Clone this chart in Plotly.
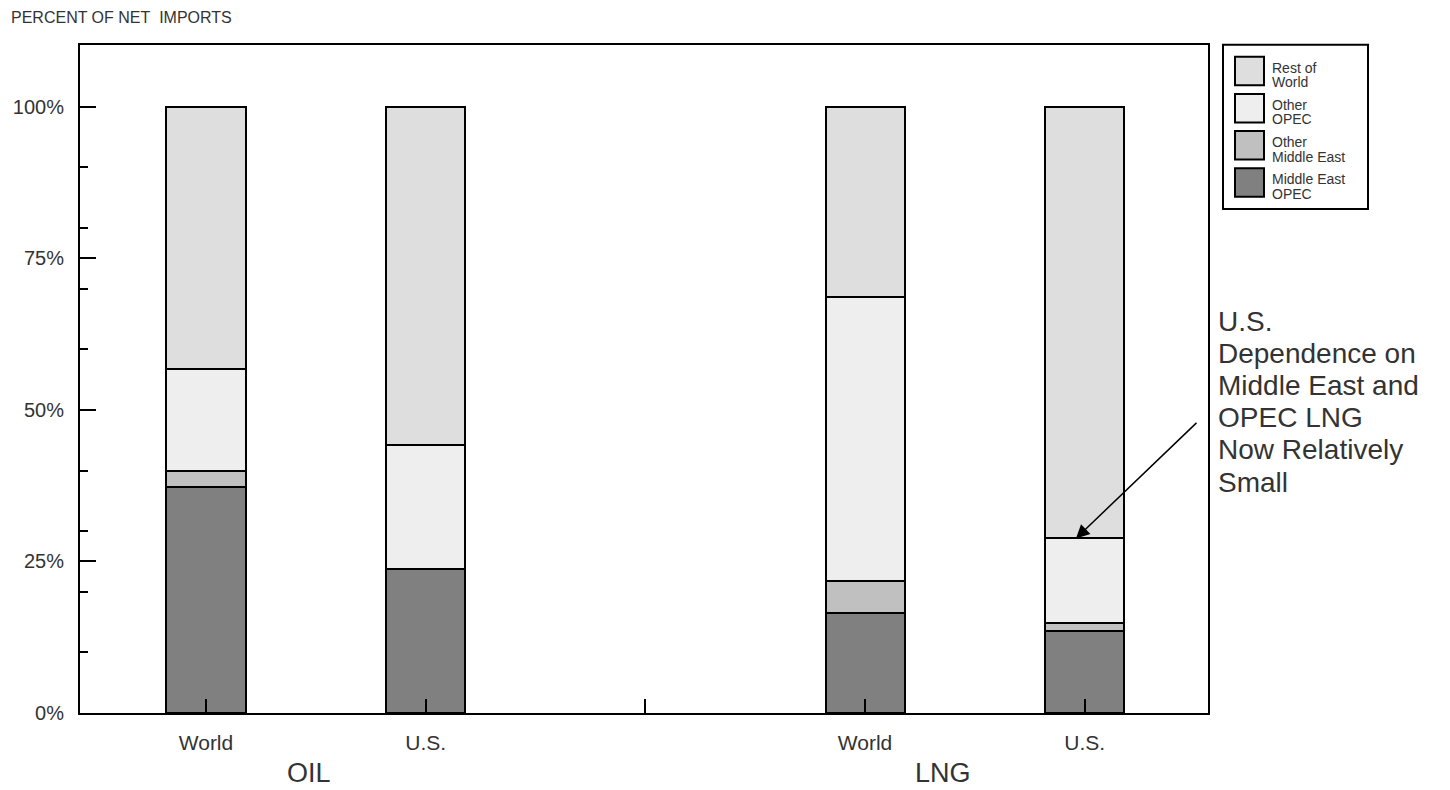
import plotly.graph_objects as go

# ---------------- data ----------------
groups = ["OIL", "OIL", "LNG", "LNG"]
categories = ["World", "U.S.", "World", "U.S."]
middle_east_opec = [37.3, 23.7, 16.5, 13.5]
other_middle_east = [2.6, 0.0, 5.3, 1.35]
other_opec = [16.8, 20.5, 46.8, 13.95]
rest_of_world = [43.3, 55.8, 31.4, 71.2]

series_names = ["Middle East<br>OPEC", "Other<br>Middle East", "Other<br>OPEC", "Rest of<br>World"]
series_values = [middle_east_opec, other_middle_east, other_opec, rest_of_world]
series_colors = ["#808080", "#c0c0c0", "#eeeeee", "#dedede"]

y_tickvals = [0, 25, 50, 75, 100]
y_ticktext = ["0%", "25%", "50%", "75%", "100%"]
y_minor_tickvals = [10, 20, 30, 40, 60, 70, 80, 90]

title_text = "PERCENT OF NET&nbsp;&nbsp;IMPORTS"
note_lines = ["U.S.", "Dependence on", "Middle East and", "OPEC LNG", "Now Relatively", "Small"]

FONT = "Liberation Sans, Arial, Helvetica, sans-serif"
TXT = "#333333"

# category slots, with an empty slot between OIL and LNG
slots = [f"{g}|{c}" for g, c in zip(groups[:2], categories[:2])] + ["gap"] + \
        [f"{g}|{c}" for g, c in zip(groups[2:], categories[2:])]
bar_x = [f"{g}|{c}" for g, c in zip(groups, categories)]
tick_text = categories[:2] + [""] + categories[2:]

fig = go.Figure()
for name, vals, col in zip(series_names, series_values, series_colors):
    fig.add_trace(go.Bar(
        x=bar_x, y=vals, name=name.replace("<br>", " "),
        marker=dict(color=col, line=dict(color="black", width=2)),
        width=0.36, showlegend=False,
    ))

# page has an 8px body margin; compensate
OFF = 8
W, H = 1450 - OFF, 790 - OFF
ml, mr, mt, mb = 80 - OFF, 242, 45 - OFF, 77
pw, ph = W - ml - mr, H - mt - mb
PL, PB = OFF + ml, OFF + H - mb   # plot-area left / bottom in page pixels


def px(x):
    return (x - PL) / pw


def py(y):
    return (PB - y) / ph


fig.update_layout(
    width=W, height=H,
    margin=dict(l=ml, r=mr, t=mt, b=mb, autoexpand=False),
    paper_bgcolor="white", plot_bgcolor="white",
    barmode="stack",
    font=dict(family=FONT, color=TXT),
    xaxis=dict(
        type="category", categoryorder="array", categoryarray=slots,
        tickmode="array", tickvals=slots, ticktext=tick_text,
        range=[-0.5735, 4.561], automargin=False,
        ticks="inside", ticklen=14, tickwidth=2, tickcolor="black",
        showline=True, linecolor="black", linewidth=2, mirror=True,
        showgrid=False, zeroline=False,
        tickfont=dict(size=21, color=TXT, family=FONT),
        ticklabelstandoff=10,
    ),
    yaxis=dict(
        range=[0, 110.2], automargin=False,
        tickmode="array", tickvals=y_tickvals, ticktext=y_ticktext,
        ticks="inside", ticklen=16, tickwidth=2, tickcolor="black",
        minor=dict(tickmode="array", tickvals=y_minor_tickvals, ticks="inside",
                   ticklen=8, tickwidth=2, tickcolor="black", showgrid=False),
        showline=True, linecolor="black", linewidth=2, mirror=True,
        showgrid=False, zeroline=False,
        tickfont=dict(size=20, color=TXT, family=FONT),
        ticklabelstandoff=10,
    ),
)

ann = []
# title
ann.append(dict(text=title_text, xref="paper", yref="paper", x=px(9), y=py(17),
                xanchor="left", yanchor="middle", showarrow=False,
                font=dict(size=16, color=TXT, family=FONT)))
# group labels
for g, xc in zip(["OIL", "LNG"], [309, 943]):
    ann.append(dict(text=g, xref="paper", yref="paper", x=px(xc), y=py(773),
                    xanchor="center", yanchor="middle", showarrow=False,
                    font=dict(size=27, color=TXT, family=FONT)))
# note text
for i, line in enumerate(note_lines):
    ann.append(dict(text=line, xref="paper", yref="paper", x=px(1216), y=py(321 + i * 32.2),
                    xanchor="left", yanchor="middle", showarrow=False,
                    font=dict(size=28, color=TXT, family=FONT)))
# arrow to the LNG U.S. Other OPEC top
tip_y = middle_east_opec[3] + other_middle_east[3] + other_opec[3]
ann.append(dict(text="", x=slots.index("LNG|U.S.") - 0.04, y=tip_y, xref="x", yref="y",
                showarrow=True, ax=122, ay=-117, arrowhead=2, arrowsize=1.8,
                arrowwidth=1.5, arrowcolor="black", standoff=0))

# legend (drawn manually)
shapes = []
shapes.append(dict(type="rect", xref="paper", yref="paper",
                   x0=px(1223), x1=px(1368), y0=py(209), y1=py(44.7),
                   line=dict(color="black", width=2), fillcolor="white"))
leg_order = list(range(len(series_names)))[::-1]  # top: Rest of World
for k, si in enumerate(leg_order):
    top = 56.7 + k * 37.2
    shapes.append(dict(type="rect", xref="paper", yref="paper",
                       x0=px(1235), x1=px(1264), y0=py(top + 28.5), y1=py(top),
                       line=dict(color="black", width=2), fillcolor=series_colors[si]))
    for j, part in enumerate(series_names[si].split("<br>")):
        ann.append(dict(text=part, xref="paper", yref="paper", x=px(1271), y=py(top + 11 + j * 14.5),
                        xanchor="left", yanchor="middle", showarrow=False,
                        font=dict(size=14, color=TXT, family=FONT), borderpad=0))

fig.update_layout(annotations=ann, shapes=shapes)
fig.write_html("out.html")
